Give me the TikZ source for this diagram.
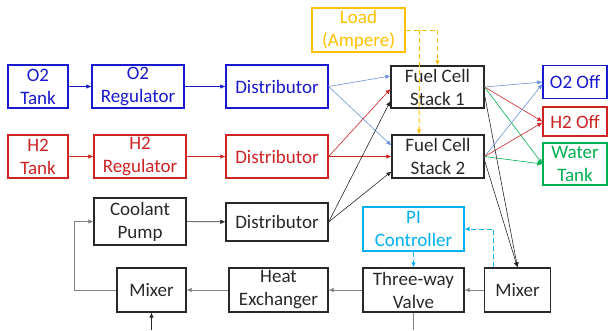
\documentclass[tikz,border=0pt]{standalone}
\usepackage{fontspec}
\setmainfont{Carlito}
\usepackage{xcolor}
\usetikzlibrary{calc,shapes,positioning}
\usetikzlibrary{arrows.meta}

\definecolor{otwo}{RGB}{25,25,205}
\definecolor{otwoline}{RGB}{105,145,220}
\definecolor{htwo}{RGB}{205,35,35}
\definecolor{wgreen}{RGB}{0,176,80}
\definecolor{loadgold}{RGB}{255,192,0}
\definecolor{picyan}{RGB}{0,176,240}
\definecolor{boxgray}{RGB}{40,40,40}
\definecolor{loopgray}{RGB}{130,130,130}

\begin{document}
\begin{tikzpicture}[x=1pt,y=-1pt,>={Latex[length=5pt,width=4.5pt]}]
      \useasboundingbox (0,0) rectangle (609,330);
      \tikzstyle{bnode} = [thick, rectangle, draw, fill=white, inner sep = 1pt, align=center,
        font=\fontsize{19}{23}\selectfont, line width=1.2pt]
      \tikzstyle{knode} = [bnode, draw=boxgray, text=boxgray]
      \tikzstyle{onode} = [bnode, draw=otwo, text=otwo]
      \tikzstyle{hnode} = [bnode, draw=htwo, text=htwo]
      \tikzstyle{conn} = [line width=0.6pt, ->]
      \tikzstyle{signal} = [conn, line width=1pt, dash pattern=on 5pt off 3pt]

      % oxygen line
      \node[onode, minimum width=60, minimum height=43] (o2tank) at (38, 86.5) {O2\\Tank};
      \node[onode, minimum width=92, minimum height=43] (o2reg) at (138, 86.5) {O2\\Regulator};
      \node[onode, minimum width=102, minimum height=43] (o2dist) at (277, 86.5) {Distributor};

      % hydrogen line
      \node[hnode, minimum width=60, minimum height=43] (h2tank) at (38, 156.5) {H2\\Tank};
      \node[hnode, minimum width=92, minimum height=43] (h2reg) at (140, 156.5) {H2\\Regulator};
      \node[hnode, minimum width=102, minimum height=43] (h2dist) at (277, 156.5) {Distributor};

      % stacks and load
      \node[bnode, draw=loadgold, text=loadgold, minimum width=93, minimum height=44] (load) at (358.5, 30) {Load\\(Ampere)};
      \node[knode, minimum width=93, minimum height=42] (fcs1) at (437.5, 87) {Fuel Cell\\Stack 1};
      \node[knode, minimum width=92, minimum height=43] (fcs2) at (438, 156.5) {Fuel Cell\\Stack 2};

      % outlets
      \node[onode, minimum width=64, minimum height=33] (o2off) at (575, 82) {O2 Off};
      \node[hnode, minimum width=64, minimum height=29] (h2off) at (575, 121.5) {H2 Off};
      \node[bnode, draw=wgreen, text=wgreen, minimum width=64, minimum height=42] (water) at (575, 164) {Water\\Tank};

      % coolant loop
      \node[knode, minimum width=92, minimum height=47] (pump) at (140, 221.5) {Coolant\\Pump};
      \node[knode, minimum width=102, minimum height=38] (cdist) at (277, 222) {Distributor};
      \node[knode, minimum width=69, minimum height=44] (mixl) at (151.5, 290) {Mixer};
      \node[knode, minimum width=99, minimum height=44] (heat) at (278.5, 290) {Heat\\Exchanger};
      \node[bnode, draw=picyan, text=picyan, minimum width=101, minimum height=44] (pi) at (413.5, 229) {PI\\Controller};
      \node[knode, minimum width=101, minimum height=44] (valve) at (413.5, 290) {Three-way\\Valve};
      \node[knode, minimum width=66, minimum height=44] (mixr) at (517.5, 290) {Mixer};

      \coordinate (inlet) at (151.5, 330);
      \coordinate (outlet) at (413.5, 330);

      % connections
      \draw[conn, otwo] (o2tank) to (o2reg);
      \draw[conn, otwo] (o2reg) to (o2dist);
      \draw[conn, htwo] (h2tank) to (h2reg);
      \draw[conn, htwo] (h2reg) to (h2dist);

      \draw[conn, otwoline] (o2dist.east) to ($(fcs1.west)+(0,-11)$);
      \draw[conn, otwoline] (o2dist.east) to ($(fcs2.west)+(0,-11)$);
      \draw[conn, htwo] (h2dist.east) to ($(fcs1.west)+(0,2)$);
      \draw[conn, htwo] (h2dist.east) to ($(fcs2.west)+(0,0)$);
      \draw[conn, boxgray] (cdist.east) to ($(fcs1.west)+(0,14)$);
      \draw[conn, boxgray] (cdist.east) to ($(fcs2.west)+(0,15)$);

      \draw[signal, loadgold] (load.east) -| (fcs1.north);
      \draw[signal, loadgold] ($(load.east)+(14,0)$) to ($(fcs2.north)+(-19,0)$);

      \draw[conn, otwoline] (fcs1.east) to (o2off.west);
      \draw[conn, htwo] (fcs1.east) to (h2off.west);
      \draw[conn, wgreen] (fcs1.east) to (water.west);
      \draw[conn, otwoline] (fcs2.east) to ($(o2off.west)+(0,2)$);
      \draw[conn, htwo] (fcs2.east) to ($(h2off.west)+(0,1)$);
      \draw[conn, wgreen] (fcs2.east) to (water.west);

      \draw[conn, boxgray] ($(fcs1.east)+(0,8)$) to (mixr.north);
      \draw[conn, boxgray] ($(fcs2.east)+(0,4)$) to (mixr.north);

      \draw[signal, picyan] ($(mixr.north)+(-24,0)$) |- (pi.east);
      \draw[signal, picyan] (pi) to (valve);

      \draw[conn, loopgray] (mixr) to (valve);
      \draw[conn, loopgray] (valve) to (heat);
      \draw[conn, loopgray] (heat) to (mixl);
      \draw[conn, loopgray] (mixl.west) -- ++(-42,0) |- (pump.west);
      \draw[conn, boxgray] (pump) to (cdist);
      \draw[conn, boxgray] (inlet) to (mixl.south);
      \draw[line width=0.6pt, loopgray] (valve.south) to (outlet);
    \end{tikzpicture}
\end{document}
